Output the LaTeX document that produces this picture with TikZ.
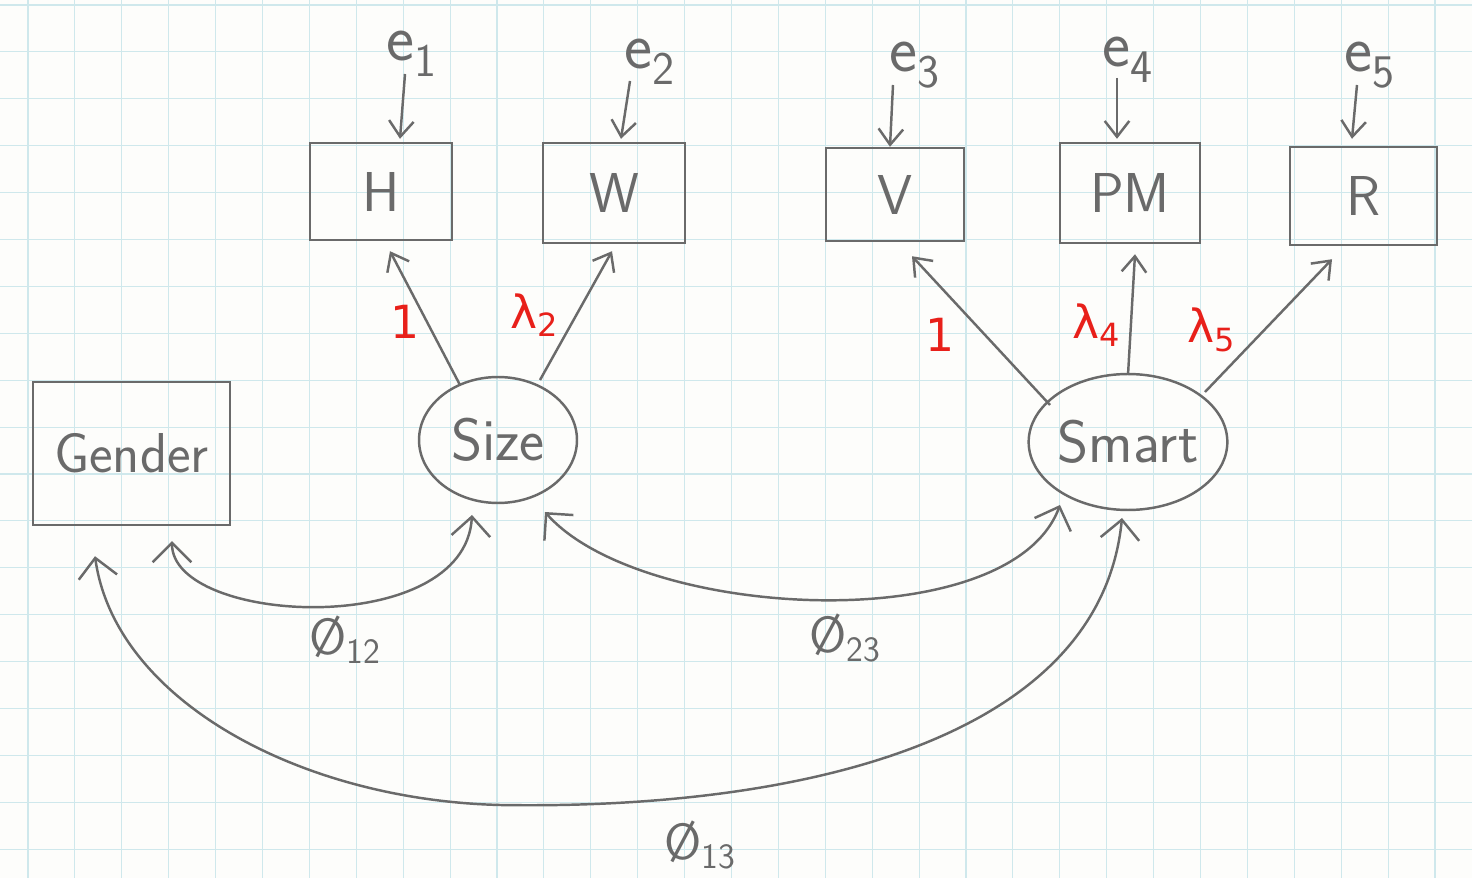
\documentclass[tikz,border=0pt]{standalone}
\usepackage{fontspec}
\usetikzlibrary{arrows.meta,shapes.geometric}
\newfontfamily\redfont{DejaVu Sans}
\definecolor{pencil}{HTML}{6A6A6A}
\definecolor{gridc}{HTML}{CFE8EC}
\definecolor{penred}{HTML}{E8201A}
\definecolor{paper}{HTML}{FDFDFB}
\tikzset{
  obs/.style={draw=pencil, line width=1.4pt, rectangle, inner sep=0pt, text=pencil,
    font=\sffamily\fontsize{32}{34}\selectfont},
  lat/.style={draw=pencil, line width=1.4pt, ellipse, inner sep=0pt, text=pencil,
    font=\sffamily\fontsize{34}{36}\selectfont},
  errlab/.style={text=pencil, inner sep=0pt, font=\sffamily\fontsize{38}{38}\selectfont},
  loadlab/.style={text=penred, inner sep=0pt, font=\redfont\fontsize{26}{26}\selectfont},
  covlab/.style={text=pencil, inner sep=0pt, font=\sffamily\fontsize{29}{29}\selectfont},
  onearrow/.style={draw=pencil, line width=1.4pt, -{Straight Barb[length=9pt,width=14pt]}},
  twoarrow/.style={draw=pencil, line width=1.4pt,
    {Straight Barb[length=11pt,width=22pt]}-{Straight Barb[length=11pt,width=22pt]}},
}
\begin{document}
\begin{tikzpicture}[x=0.02cm,y=-0.02cm]
\useasboundingbox (0,0) rectangle (1472,878);
\fill[paper] (0,0) rectangle (1472,878);
\foreach \i in {0,...,30} \draw[gridc, line width=0.6pt] ({28+46.9*\i},0) -- ({28+46.9*\i},878);
\foreach \j in {0,...,18} \draw[gridc, line width=0.6pt] (0,{5+46.9*\j}) -- (1472,{5+46.9*\j});

% observed variables
\node[obs, minimum width=2.84cm, minimum height=1.94cm] (H) at (381,191.5) {H};
\node[obs, minimum width=2.84cm, minimum height=2.00cm] (W) at (614,193) {W};
\node[obs, minimum width=2.76cm, minimum height=1.86cm] (V) at (895,194.5) {V};
\node[obs, minimum width=2.80cm, minimum height=2.00cm] (PM) at (1130,193) {PM};
\node[obs, minimum width=2.94cm, minimum height=1.96cm] (R) at (1363.5,196) {R};
\node[obs, minimum width=3.94cm, minimum height=2.86cm] (G) at (131.5,453.5) {Gender};

% latent variables
\node[lat, minimum width=3.16cm, minimum height=2.52cm] (S) at (498,440) {Size};
\node[lat, minimum width=3.68cm, minimum height=2.72cm] (M) at (1128,442) {Smart};

% error terms
\node[errlab] (e1) at (412,54) {e\textsubscript{1}};
\node[errlab] (e2) at (650,62) {e\textsubscript{2}};
\node[errlab] (e3) at (915,65) {e\textsubscript{3}};
\node[errlab] (e4) at (1128,60) {e\textsubscript{4}};
\node[errlab] (e5) at (1370,65) {e\textsubscript{5}};

\draw[onearrow] ([shift={(-7,20)}]e1.center) -- ([shift={(19,-3)}]H.north);
\draw[onearrow] ([shift={(-20,19)}]e2.center) -- ([shift={(7,-3)}]W.north);
\draw[onearrow] ([shift={(-22,20)}]e3.center) -- ([shift={(-5,0)}]V.north);
\draw[onearrow] ([shift={(-11,18)}]e4.center) -- ([shift={(-13,-3)}]PM.north);
\draw[onearrow] ([shift={(-13,20)}]e5.center) -- ([shift={(-11.5,-7)}]R.north);

% loadings
\draw[onearrow] ([shift={(-38,-55)}]S.center) -- ([shift={(9,10)}]H.south);
\draw[onearrow] ([shift={(42,-60)}]S.center) -- ([shift={(-2,7)}]W.south);
\draw[onearrow] ([shift={(-78,-37)}]M.center) -- ([shift={(17,14)}]V.south);
\draw[onearrow] ([shift={(0,-67)}]M.center) -- ([shift={(5,10)}]PM.south);
\draw[onearrow] ([shift={(77,-50)}]M.center) -- ([shift={(-31.5,13)}]R.south);

\node[loadlab] (l1) at (405,322) {1};
\node[loadlab] (l2) at (535,315) {λ\textsubscript{2}};
\node[loadlab] (l3) at (940,335) {1};
\node[loadlab] (l4) at (1097,325) {λ\textsubscript{4}};
\node[loadlab] (l5) at (1212,330) {λ\textsubscript{5}};

% covariances
\draw[twoarrow] ([shift={(40.5,15)}]G.south) .. controls (172,625) and (465,640) .. ([shift={(-26,75)}]S.center);
\draw[twoarrow] ([shift={(47,72)}]S.center) .. controls (640,620) and (1010,640) .. ([shift={(-68,63)}]M.center);
\draw[twoarrow] ([shift={(-36.5,30)}]G.south) .. controls (115,700) and (300,800) .. (500,805)
   .. controls (800,810) and (1100,740) .. ([shift={(-6,76)}]M.center);

\node[covlab] (p12) at (345,640) {Ø\textsubscript{12}};
\node[covlab] (p23) at (845,638) {Ø\textsubscript{23}};
\node[covlab] (p13) at (700,845) {Ø\textsubscript{13}};
\end{tikzpicture}
\end{document}
